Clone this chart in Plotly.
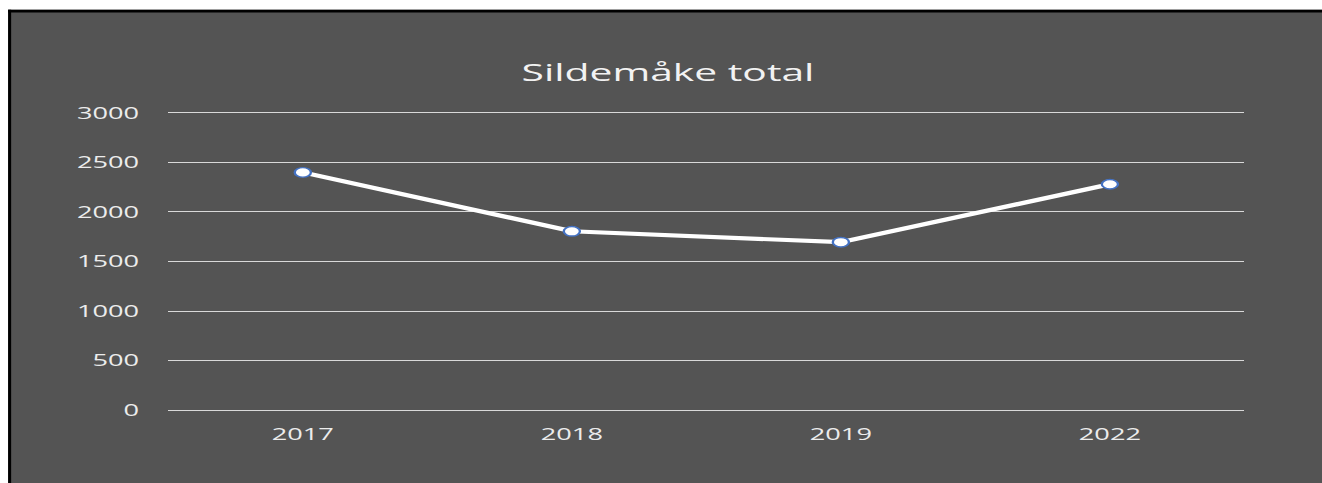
import plotly.graph_objects as go

years = ["2017", "2018", "2019", "2022"]
totals = [2400, 1805, 1695, 2280]
y_ticks = [0, 500, 1000, 1500, 2000, 2500, 3000]

# The reference picture is horizontally stretched; draw narrower and stretch.
S = 1.7
REF_W, H = 1322, 483
W = REF_W / S

# plot area in reference pixels
px0, px1 = 169, 1244
py_top, py_bot = 113, 410
y_lo, y_hi = -30, 3030
unit = (py_bot - py_top) / 3000.0
top_px = py_top - (y_hi - 3000) * unit
bot_px = py_bot + (0 - y_lo) * unit

L = px0 / S
R = (REF_W - px1) / S
T = top_px
B = H - bot_px
pw = W - L - R
ph = H - T - B

BG = "#545454"

fig = go.Figure()
fig.add_trace(go.Scatter(
    x=years, y=totals, mode="lines+markers",
    line=dict(color="white", width=4.2),
    marker=dict(symbol="circle", size=9.5, color="white",
                line=dict(color="#4472C4", width=1.4)),
    showlegend=False, hoverinfo="x+y",
))

def fx(ref_px):
    return (ref_px / S - L) / pw

def fy(ref_py):
    return (H - B - ref_py) / ph

# white outer margin (top and left) and black frame edges
fig.add_shape(type="rect", xref="paper", yref="paper",
              x0=fx(-20), x1=fx(1400), y0=fy(9.8), y1=fy(-20),
              fillcolor="white", line=dict(width=0), layer="below")
fig.add_shape(type="rect", xref="paper", yref="paper",
              x0=fx(-20), x1=fx(9), y0=fy(520), y1=fy(-20),
              fillcolor="white", line=dict(width=0), layer="below")
fig.add_shape(type="rect", xref="paper", yref="paper",
              x0=fx(9), x1=fx(1400), y0=fy(12.5), y1=fy(9.8),
              fillcolor="black", line=dict(width=0), layer="below")
fig.add_shape(type="rect", xref="paper", yref="paper",
              x0=fx(9), x1=fx(12), y0=fy(520), y1=fy(9.8),
              fillcolor="black", line=dict(width=0), layer="below")

font = "Open Sans, Segoe UI, Calibri, sans-serif"
fig.update_layout(
    width=W, height=H,
    margin=dict(l=L, r=R, t=T, b=B, pad=0),
    paper_bgcolor=BG,
    plot_bgcolor="rgba(0,0,0,0)",
    title=dict(text="Sildemåke total", x=668 / REF_W, xanchor="center",
               y=1 - 73 / H, yanchor="middle", yref="container",
               font=dict(family=font, size=24, color="#f2f2f2")),
    xaxis=dict(type="category", range=[-0.5, 3.5], showgrid=False,
               showline=False, zeroline=False,
               ticks="outside", ticklen=7, tickcolor="rgba(0,0,0,0)",
               tickfont=dict(family=font, size=16, color="#ececec")),
    yaxis=dict(range=[y_lo, y_hi], tickvals=y_ticks, showgrid=True,
               gridcolor="#d9d9d9", gridwidth=1, zeroline=False,
               showline=False,
               ticks="outside", ticklen=13, tickcolor="rgba(0,0,0,0)",
               tickfont=dict(family=font, size=16, color="#ececec")),
)

post = (
    "document.body.style.margin='0';"
    "document.body.style.overflow='hidden';"
    "document.body.style.background='" + BG + "';"
    "var gd=document.getElementById('{plot_id}');"
    "gd.style.transformOrigin='0 0';"
    "gd.style.transform='scaleX(%s)';" % S
)

fig.write_html("out.html", post_script=post,
               config={"displayModeBar": False})
